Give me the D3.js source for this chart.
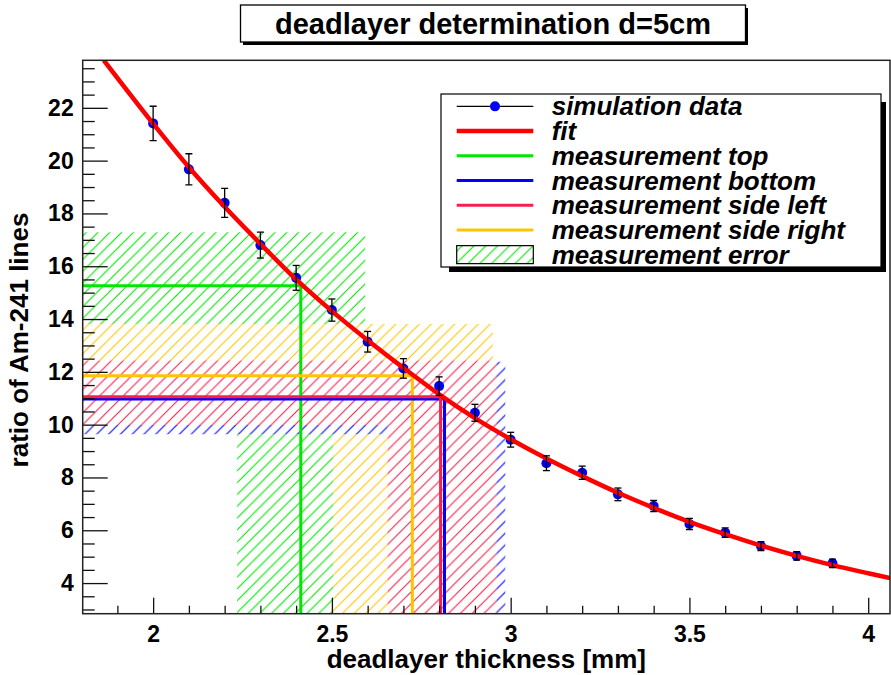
<!DOCTYPE html>
<html>
<head>
    <meta charset="utf-8">
    <title>deadlayer determination d=5cm</title>
    <style>
        body { margin: 0; background: white; }
        #DeadlayerPlot { width: 891px; height: 675px; }
        text { font-family: "Liberation Sans", Arial, Helvetica, sans-serif; font-weight: bold; }
    </style>
</head>
<body>
    <div id="DeadlayerPlot"></div>
    <script src="https://cdn.jsdelivr.net/npm/d3@7"></script>
    <script>

        // simulation points (thickness in mm, ratio, error)
        let simX = [2.0, 2.1, 2.2, 2.3, 2.4, 2.5, 2.6, 2.7, 2.8, 2.9, 3.0, 3.1, 3.2, 3.3, 3.4, 3.5, 3.6, 3.7, 3.8, 3.9];
        let simY = [21.41, 19.67, 18.40, 16.80, 15.56, 14.34, 13.14, 12.13, 11.46, 10.45, 9.43, 8.54, 8.18, 7.36, 6.92, 6.24, 5.91, 5.40, 5.03, 4.75];
        let simErr = [0.65, 0.59, 0.55, 0.49, 0.47, 0.42, 0.39, 0.37, 0.35, 0.32, 0.28, 0.28, 0.25, 0.24, 0.21, 0.21, 0.18, 0.17, 0.16, 0.16];

        // fit curve
        let fitX = [1.862, 2.0, 2.1, 2.2, 2.3, 2.4, 2.5, 2.6, 2.7, 2.8, 2.9, 3.0, 3.1, 3.2, 3.3, 3.4, 3.5, 3.6, 3.7, 3.8, 3.9, 4.0, 4.061];
        let fitY = [23.8, 21.4, 19.75, 18.25, 16.85, 15.5, 14.3, 13.2, 12.15, 11.15, 10.25, 9.45, 8.72, 8.05, 7.42, 6.85, 6.32, 5.85, 5.42, 5.03, 4.68, 4.37, 4.19];

        // measurements: drawn in this order (top, side right, bottom, side left)
        let measNames = ["measurement top", "measurement side right", "measurement bottom", "measurement side left"];
        let measY = [15.26, 11.85, 10.97, 11.06];
        let measX = [2.413, 2.725, 2.815, 2.804];
        let measYLo = [13.25, 10.0, 9.64, 9.99];
        let measYHi = [17.29, 13.81, 12.38, 12.43];
        let measXLo = [2.235, 2.504, 2.66, 2.656];
        let measXHi = [2.593, 2.95, 2.985, 2.96];
        let measColors = ["#00e600", "#ffc400", "#0000ff", "#f5204b"];

        let legendLabels = ["simulation data", "fit", "measurement top", "measurement bottom", "measurement side left", "measurement side right", "measurement error"];

        let xDomain = [1.803, 4.061];
        let yDomain = [2.84, 23.8];
        let xMajorTicks = [2, 2.5, 3, 3.5, 4];
        let xMinorTicks = [1.9, 2.1, 2.2, 2.3, 2.4, 2.6, 2.7, 2.8, 2.9, 3.1, 3.2, 3.3, 3.4, 3.6, 3.7, 3.8, 3.9];
        let yMajorTicks = [4, 6, 8, 10, 12, 14, 16, 18, 20, 22];
        let yMinorTicks = [3, 3.5, 4.5, 5, 5.5, 6.5, 7, 7.5, 8.5, 9, 9.5, 10.5, 11, 11.5, 12.5, 13, 13.5, 14.5, 15, 15.5, 16.5, 17, 17.5, 18.5, 19, 19.5, 20.5, 21, 21.5, 22.5, 23, 23.5];

        let fLeft = 82.7, fRight = 890, fTop = 60.3, fBottom = 613.7;

        let xScale = d3.scaleLinear().domain(xDomain).range([fLeft, fRight]);
        let yScale = d3.scaleLinear().domain(yDomain).range([fBottom, fTop]);

        let svg = d3.select("#DeadlayerPlot").append("svg")
            .attr("width", 891)
            .attr("height", 675);

        let defs = svg.append("defs");
        defs.append("clipPath").attr("id", "frameClip")
            .append("rect")
            .attr("x", fLeft).attr("y", fTop)
            .attr("width", fRight - fLeft).attr("height", fBottom - fTop);

        // hatch patterns ("/" lines), aligned to the page
        let hs = 11.8;
        measColors.forEach((c, i) => {
            let p = defs.append("pattern")
                .attr("id", "hatch" + i)
                .attr("patternUnits", "userSpaceOnUse")
                .attr("width", hs).attr("height", hs);
            p.append("path")
                .attr("d", `M0,${hs} L${hs},0 M${-hs / 2},${hs / 2} L${hs / 2},${-hs / 2} M${hs / 2},${hs * 1.5} L${hs * 1.5},${hs / 2}`)
                .attr("stroke", c)
                .attr("stroke-width", 1.1);
        });

        // error regions (L-shaped: horizontal band plus vertical band)
        function regionPath(i) {
            let pts = [
                [xDomain[0], measYHi[i]], [measXHi[i], measYHi[i]], [measXHi[i], yDomain[0]],
                [measXLo[i], yDomain[0]], [measXLo[i], measYLo[i]], [xDomain[0], measYLo[i]]
            ];
            return "M" + pts.map(p => xScale(p[0]) + "," + yScale(p[1])).join("L") + "Z";
        }

        // later regions hide the hatch of earlier ones (as in the original)
        for (let i = 0; i < measNames.length; i++) {
            let m = defs.append("mask").attr("id", "mask" + i)
                .attr("maskUnits", "userSpaceOnUse")
                .attr("x", 0).attr("y", 0).attr("width", 891).attr("height", 675);
            m.append("path").attr("d", regionPath(i)).attr("fill", "white");
            for (let j = i + 1; j < measNames.length; j++) {
                m.append("path").attr("d", regionPath(j)).attr("fill", "black");
            }
        }

        let plot = svg.append("g").attr("clip-path", "url(#frameClip)");

        for (let i = 0; i < measNames.length; i++) {
            plot.append("rect")
                .attr("x", fLeft).attr("y", fTop)
                .attr("width", fRight - fLeft).attr("height", fBottom - fTop)
                .attr("fill", "url(#hatch" + i + ")")
                .attr("mask", "url(#mask" + i + ")");
        }

        // measurement lines
        for (let i = 0; i < measNames.length; i++) {
            let pts = [[xDomain[0], measY[i]], [measX[i], measY[i]], [measX[i], yDomain[0]]];
            plot.append("path")
                .attr("d", d3.line().x(p => xScale(p[0])).y(p => yScale(p[1]))(pts))
                .attr("fill", "none")
                .attr("stroke", measColors[i])
                .attr("stroke-width", 3);
        }

        // simulation markers
        let sim = simX.map((x, i) => ({x: x, y: simY[i], e: simErr[i]}));
        plot.selectAll("circle.sim")
            .data(sim)
            .enter()
            .append("circle")
            .attr("class", "sim")
            .attr("cx", d => xScale(d.x))
            .attr("cy", d => yScale(d.y))
            .attr("r", 5)
            .attr("fill", "#0000ff");

        // fit
        let fit = fitX.map((x, i) => [x, fitY[i]]);
        plot.append("path")
            .attr("d", d3.line().curve(d3.curveCatmullRom).x(p => xScale(p[0])).y(p => yScale(p[1]))(fit))
            .attr("fill", "none")
            .attr("stroke", "#ff0000")
            .attr("stroke-width", 4.5);

        // error bars
        let bars = plot.selectAll("g.err").data(sim).enter().append("g").attr("class", "err")
            .attr("stroke", "black").attr("stroke-width", 1.3);
        bars.append("line")
            .attr("x1", d => xScale(d.x)).attr("x2", d => xScale(d.x))
            .attr("y1", d => yScale(d.y - d.e)).attr("y2", d => yScale(d.y + d.e));
        bars.append("line")
            .attr("x1", d => xScale(d.x) - 3.5).attr("x2", d => xScale(d.x) + 3.5)
            .attr("y1", d => yScale(d.y + d.e)).attr("y2", d => yScale(d.y + d.e));
        bars.append("line")
            .attr("x1", d => xScale(d.x) - 3.5).attr("x2", d => xScale(d.x) + 3.5)
            .attr("y1", d => yScale(d.y - d.e)).attr("y2", d => yScale(d.y - d.e));

        // axes, ticks point into the frame
        let xAxis = d3.axisBottom(xScale).tickValues(xMajorTicks).tickSizeInner(-16).tickSizeOuter(0).tickPadding(12)
            .tickFormat(d3.format("~g"));
        let xMinor = d3.axisBottom(xScale).tickValues(xMinorTicks).tickSizeInner(-8).tickSizeOuter(0).tickFormat("");
        let yAxis = d3.axisLeft(yScale).tickValues(yMajorTicks).tickSizeInner(-25).tickSizeOuter(0).tickPadding(9);
        let yMinor = d3.axisLeft(yScale).tickValues(yMinorTicks).tickSizeInner(-12).tickSizeOuter(0).tickFormat("");

        [[xAxis, "x"], [xMinor, "x"], [yAxis, "y"], [yMinor, "y"]].forEach(a => {
            let g = svg.append("g")
                .attr("transform", a[1] == "x" ? "translate(0," + fBottom + ")" : "translate(" + fLeft + ",0)")
                .call(a[0]);
            g.select(".domain").remove();
            g.selectAll("line").attr("stroke", "#111").attr("stroke-width", 1.3);
            g.selectAll("text")
                .attr("fill", "black")
                .style("font-family", "'Liberation Sans', Arial, sans-serif")
                .style("font-weight", "bold")
                .style("font-size", "23px");
        });

        // frame
        svg.append("rect")
            .attr("x", fLeft).attr("y", fTop)
            .attr("width", fRight - fLeft).attr("height", fBottom - fTop)
            .attr("fill", "none")
            .attr("stroke", "#222")
            .attr("stroke-width", 1.5);

        // axis titles
        svg.append("text")
            .attr("x", (fLeft + fRight) / 2)
            .attr("y", 668)
            .attr("text-anchor", "middle")
            .style("font-size", "26px")
            .text("deadlayer thickness [mm]");

        svg.append("text")
            .attr("transform", "translate(28," + 340 + ") rotate(-90)")
            .attr("text-anchor", "middle")
            .style("font-size", "26px")
            .text("ratio of Am-241 lines");

        // title box
        svg.append("rect").attr("x", 243).attr("y", 8).attr("width", 505).attr("height", 37).attr("fill", "black");
        svg.append("rect").attr("x", 240.5).attr("y", 5).attr("width", 505).attr("height", 37)
            .attr("fill", "white").attr("stroke", "black").attr("stroke-width", 1.3);
        svg.append("text")
            .attr("x", 493)
            .attr("y", 33.5)
            .attr("text-anchor", "middle")
            .style("font-size", "29px")
            .text("deadlayer determination d=5cm");

        // legend
        let lx = 441, ly = 94, lw = 440, lh = 173;
        let rowH = lh / legendLabels.length;
        svg.append("path")
            .attr("d", `M${lx + lw},${ly + 8} h5 v${lh - 3} H${lx + 8} v-5 H${lx + lw} Z`)
            .attr("fill", "black");
        svg.append("rect").attr("x", lx).attr("y", ly).attr("width", lw).attr("height", lh)
            .attr("fill", "white").attr("stroke", "black").attr("stroke-width", 1.2);

        let lineStyles = [
            {c: "black", w: 1.2}, {c: "#ff0000", w: 4.5}, {c: measColors[0], w: 3},
            {c: measColors[2], w: 3}, {c: measColors[3], w: 3}, {c: measColors[1], w: 3}
        ];
        let sx1 = 456.7, sx2 = 533.3;
        legendLabels.forEach((lab, i) => {
            let cy = ly + (i + 0.5) * rowH;
            if (i < lineStyles.length) {
                svg.append("line")
                    .attr("x1", sx1).attr("x2", sx2).attr("y1", cy).attr("y2", cy)
                    .attr("stroke", lineStyles[i].c).attr("stroke-width", lineStyles[i].w);
            } else {
                svg.append("rect")
                    .attr("x", sx1).attr("y", cy - 9).attr("width", sx2 - sx1).attr("height", 18)
                    .attr("fill", "url(#hatch0)").attr("stroke", "black").attr("stroke-width", 1.2);
            }
            if (i == 0) {
                svg.append("circle").attr("cx", (sx1 + sx2) / 2).attr("cy", cy).attr("r", 5).attr("fill", "#0000ff");
            }
            svg.append("text")
                .attr("x", 551.7)
                .attr("y", cy + 9)
                .style("font-size", "26px")
                .style("font-style", "italic")
                .text(lab);
        });

    </script>
</body>
</html>
